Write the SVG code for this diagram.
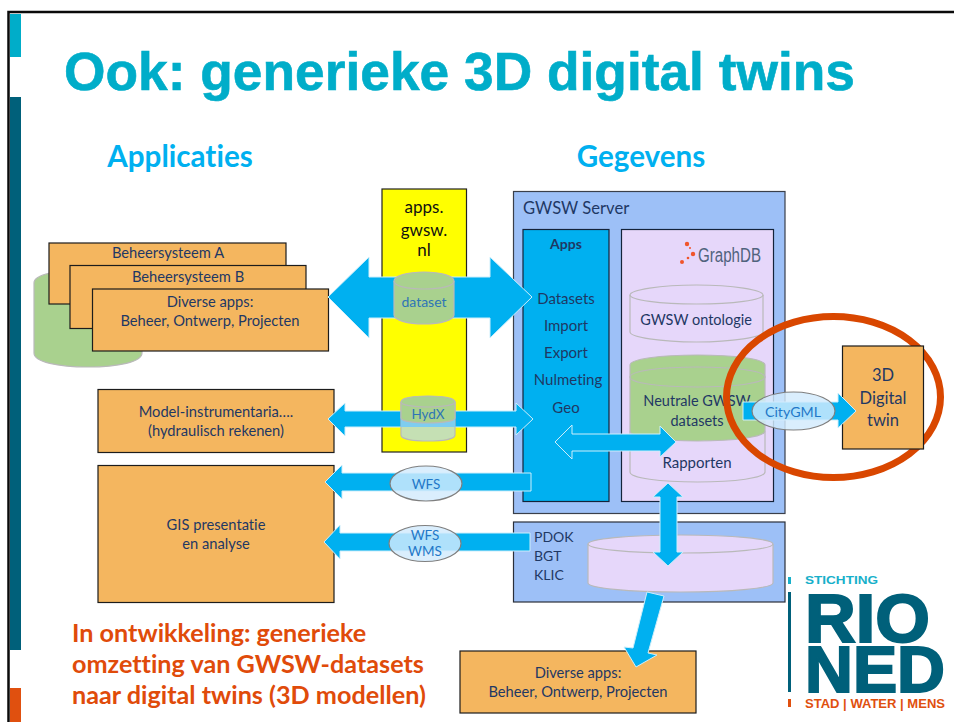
<svg xmlns="http://www.w3.org/2000/svg" width="954" height="722" viewBox="0 0 954 722">
<style>
text{font-family:"Lato","Liberation Sans",sans-serif;fill:#1f3864;font-size:14.7px;text-anchor:middle;font-variant-ligatures:none}
.box{fill:#f4b65f;stroke:#1c1c1c;stroke-width:1.2}
.cyl{stroke:#b9b9b9;stroke-width:1.2}
.lil{fill:#e6d7fa}
.grn{fill:#a9d18e}
.arrow{fill:#00b0f0;stroke:#cdeefb;stroke-width:1}
.pill{fill:#d2ebfd;fill-opacity:.83;stroke:#7f7f7f;stroke-width:1.2}
.head{font-weight:700;font-size:29.6px;fill:#00b0f0}
.note{font-weight:700;font-size:25.2px;fill:#e04b0a;text-anchor:start}
.lft{text-anchor:start}
.app{font-size:15px}
.cyt{font-size:14.5px}
.pt{fill:#1f78c8;font-size:13.5px}
.yt{fill:#111;font-size:17px}
.pd{font-size:14px}
.logo{font-family:"Liberation Sans",sans-serif;font-weight:700;text-anchor:start}
</style>
<rect width="954" height="722" fill="#fff"/>
<g id="frame">
<path d="M8.5 722V12H954" fill="none" stroke="#0a0a0a" stroke-width="2.5"/>
<rect x="10" y="14" width="11" height="43" fill="#00adc9"/>
<rect x="10" y="97" width="11" height="553" fill="#00607a"/>
<rect x="10" y="688" width="11" height="34" fill="#e0500f"/>
</g>
<text x="64" y="89.500" style="font-family:'Liberation Sans',sans-serif;font-weight:700;font-size:54px;fill:#00adc9;stroke:#00adc9;stroke-width:.6;text-anchor:start" textLength="791" lengthAdjust="spacingAndGlyphs">Ook: generieke 3D digital twins</text>
<text class="head" x="180" y="167">Applicaties</text>
<text class="head" x="641" y="167">Gegevens</text>

<g id="db-beheer"><path class="cyl grn" d="M34 283V353C34 362 58 367 88 367S142 362 142 353V283C142 274 118 270 88 270S34 274 34 283Z"/></g>
<g id="beheer-a"><rect class="box" x="49" y="243" width="237" height="61"/><text x="168" y="258">Beheersysteem A</text></g>
<g id="beheer-b"><rect class="box" x="70" y="265.500" width="236" height="63"/><text x="188" y="282">Beheersysteem B</text></g>
<g id="diverse-a"><rect class="box" x="92.500" y="289" width="236" height="62"/><text x="210" y="307">Diverse apps:</text><text x="210" y="326">Beheer, Ontwerp, Projecten</text></g>
<g id="model"><rect class="box" x="98" y="389.500" width="236" height="63"/><text x="216" y="417">Model-instrumentaria….</text><text x="216" y="436">(hydraulisch rekenen)</text></g>
<g id="gis"><rect class="box" x="98" y="465.500" width="236" height="137"/><text x="216" y="530">GIS presentatie</text><text x="216" y="549">en analyse</text></g>
<g id="apps-gwsw"><rect x="382" y="189" width="84.500" height="263" fill="#ffff00" stroke="#222" stroke-width="1.200"/>
<text class="yt" x="424" y="213">apps.</text><text class="yt" x="424" y="236">gwsw.</text><text class="yt" x="424" y="256">nl</text></g>
<g id="server"><rect x="513.500" y="191.500" width="271.500" height="322" fill="#9dc0f7" stroke="#3a3f4a" stroke-width="1.200"/><text x="523" y="214" class="lft" style="font-size:16.600px">GWSW Server</text></g>
<g id="apps"><rect x="523" y="229.500" width="86" height="272" fill="#00b0f0" stroke="#14233a" stroke-width="1.200"/>
<text x="566" y="249" style="font-weight:700;font-size:14px">Apps</text>
<text class="app" x="566" y="304">Datasets</text><text class="app" x="566" y="331">Import</text><text class="app" x="566" y="358">Export</text><text class="app" x="568" y="385">Nulmeting</text><text class="app" x="566" y="413">Geo</text></g>
<g id="graphdb"><rect x="621.500" y="229.500" width="152" height="272" fill="#e6d7fa" stroke="#14233a" stroke-width="1.200"/>
<g fill="#f0552b"><circle cx="687" cy="244" r="2.200"/><circle cx="693" cy="254" r="2.200"/><circle cx="682" cy="262" r="2"/><circle cx="688" cy="258" r="1.300"/><circle cx="690" cy="248" r="1"/></g>
<text x="698" y="262" class="lft" style="font-size:19.500px;fill:#50637d;font-family:'Liberation Sans',sans-serif" textLength="63" lengthAdjust="spacingAndGlyphs">GraphDB</text></g>
<g id="ontologie"><path class="cyl lil" d="M630 295V332C630 337 660 342 696.500 342S763 337 763 332V295C763 290 733 285 696.500 285S630 290 630 295Z"/><path class="cyl" fill="none" d="M630 295C630 300 660 304 696.500 304S763 300 763 295"/><text class="cyt" x="696" y="325">GWSW ontologie</text></g>
<g id="rapporten"><path class="cyl lil" d="M630 432V472C630 478 660 482 697.500 482S765 478 765 472V432C765 426 735 422 697.500 422S630 426 630 432Z"/><text x="697" y="468" style="font-size:15px">Rapporten</text></g>
<g id="neutrale"><path class="cyl grn" d="M630 365V431C630 437 660 441 697.500 441S765 437 765 431V365C765 359 735 355 697.500 355S630 359 630 365Z"/><path class="cyl" fill="none" d="M630 377C630 371 660 367 697.500 367S765 371 765 377C765 383 735 387 697.500 387S630 383 630 377Z"/><text class="cyt" x="697" y="406">Neutrale GWSW</text><text class="cyt" x="697" y="426">datasets</text></g>
<g id="pdok"><rect x="513.500" y="522" width="271.500" height="80" fill="#9dc0f7" stroke="#2a2f3a" stroke-width="1.200"/><text x="534" y="542" class="lft pd">PDOK</text><text x="534" y="561" class="lft pd">BGT</text><text x="534" y="580" class="lft pd">KLIC</text></g>
<g id="db-pdok"><path class="cyl lil" d="M588 544V583C588 588 628 592 680.500 592S773 588 773 583V544C773 539 733 535 680.500 535S588 539 588 544Z"/><path class="cyl" fill="none" d="M588 544C588 549 628 553 680.500 553S773 549 773 544"/></g>
<g id="diverse-b"><rect class="box" x="460" y="651" width="236" height="62"/><text x="578" y="678">Diverse apps:</text><text x="578" y="697">Beheer, Ontwerp, Projecten</text></g>
<g id="focus"><ellipse cx="833.500" cy="397" rx="107" ry="80.500" fill="none" stroke="#d94700" stroke-width="7"/></g>
<g id="twin"><rect class="box" x="842.500" y="346" width="81" height="103"/><text x="883" y="381" style="font-size:16.500px">3D</text><text x="883" y="404" style="font-size:16.500px">Digital</text><text x="883" y="426" style="font-size:16.500px">twin</text></g>

<g id="connectors">
<path class="arrow" d="M328 297L369 257V277H490V257L532 297L490 338V318H369V338Z"/>
<path class="arrow" d="M328 419L345 403V411H516V403L533 419L516 435V427H345V436Z"/>
<path class="arrow" d="M325 482L342 465V473H531V491H342V499Z"/>
<path class="arrow" d="M324 542L340 525V533H530V551H340V559Z"/>
<path class="arrow" d="M555 442L572 425V434H660V426L676 442L660 457V451H572V459Z"/>
<path class="arrow" d="M668 483L683 497H677V552H683L668 566L653 552H660V497H653Z"/>
<path class="arrow" d="M647 592L664 596L648 653L657 655L636 667L624 647L633 648Z"/>
<path class="arrow" d="M743 402H838V393L856 411L838 428V420H743Z"/>
</g>

<g id="dataset"><path class="cyl grn" stroke-width="1.500" d="M394 281V315C394 320 407 324 424 324S454 320 454 315V281C454 276 441 272 424 272S394 276 394 281Z"/><path class="cyl" fill="none" d="M394 281C394 286 407 289 424 289S454 286 454 281"/><text x="424" y="307" style="fill:#2e75b6;font-size:14px">dataset</text></g>
<g id="hydx"><path d="M401 402V435C401 439 413 441 428 441S455 439 455 435V402Z" fill="#c5e0b4" stroke="#b9b9b9" stroke-width="1.200"/><path d="M401 418C401 421 413 423 428 423S455 421 455 418V427H401Z" fill="#7fcdf0"/><path d="M401 402V418C401 421 413 423 428 423S455 421 455 418V402C455 398 443 396 428 396S401 398 401 402Z" fill="#a9d18e" stroke="#b9b9b9" stroke-width="1.200"/><path class="cyl" fill="none" d="M401 402C401 405 413 407 428 407S455 405 455 402"/><text x="428" y="419" style="fill:#2e75b6;font-size:13.500px">HydX</text></g>
<g id="wfs"><ellipse class="pill" cx="426" cy="483.500" rx="36" ry="17.500"/><text class="pt" x="426" y="489">WFS</text></g>
<g id="wfs-wms"><ellipse class="pill" cx="425" cy="543.500" rx="36" ry="18"/><text class="pt" x="425" y="540">WFS</text><text class="pt" x="425" y="556">WMS</text></g>
<g id="citygml"><ellipse class="pill" cx="793.500" cy="411" rx="41.500" ry="19"/><text class="pt" x="793" y="417" style="font-size:14.200px">CityGML</text></g>

<text class="note" x="72" y="642">In ontwikkeling: generieke</text>
<text class="note" x="72" y="673">omzetting van GWSW-datasets</text>
<text class="note" x="72" y="704">naar digital twins (3D modellen)</text>

<g id="logo">
<rect x="788" y="577" width="3" height="7" fill="#17b0ca"/><rect x="788" y="592" width="3" height="100" fill="#00607a"/><rect x="788" y="699" width="3" height="8" fill="#e0500f"/>
<text x="805" y="584" class="logo" style="font-size:11px;fill:#17b0ca" textLength="73" lengthAdjust="spacingAndGlyphs">STICHTING</text>
<text x="805" y="642" class="logo" style="font-size:68px;fill:#00607a;stroke:#00607a;stroke-width:2" textLength="125" lengthAdjust="spacingAndGlyphs">RIO</text>
<text x="805" y="692" class="logo" style="font-size:64px;fill:#00607a;stroke:#00607a;stroke-width:2" textLength="140" lengthAdjust="spacingAndGlyphs">NED</text>
<text x="805" y="708" class="logo" style="font-size:12px;fill:#e0500f" textLength="140" lengthAdjust="spacingAndGlyphs">STAD | WATER | MENS</text>
</g>
</svg>
